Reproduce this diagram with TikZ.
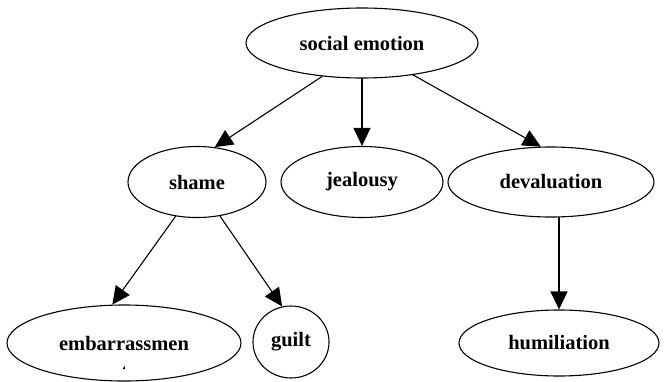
\documentclass[tikz,border=0pt]{standalone}
\usepackage{fontspec}
\setmainfont{Liberation Serif}
\usetikzlibrary{arrows.meta, shapes.geometric}

\begin{document}
\begin{tikzpicture}[x=1pt, y=-1pt, >={Triangle[length=18pt, width=17pt]},
	line cap=round, line join=round,
	emotion/.style={draw, ellipse, line width=1.1pt, inner sep=0pt,
		font=\fontsize{20.5}{24}\selectfont\bfseries},
	link/.style={->, line width=1.1pt}]

\useasboundingbox (0,0) rectangle (664,381);

% ================= top level =================
\node[emotion, minimum width=232pt, minimum height=70pt] (social) at (362,43) {social emotion};

% ================= second level =================
\node[emotion, minimum width=138pt, minimum height=71pt] (shame) at (197,182) {shame};
\node[emotion, minimum width=162pt, minimum height=71pt] (jealousy) at (362,182) {jealousy};
\node[emotion, minimum width=206pt, minimum height=70pt] (devaluation) at (551,182) {devaluation};

% ================= third level =================
\node[emotion, minimum width=234pt, minimum height=76pt] (embarrassment) at (124,343) {embarrassmen};
\node[emotion, minimum width=76pt, minimum height=72pt] (guilt) at (291,342) {guilt};
\node[emotion, minimum width=200pt, minimum height=66pt] (humiliation) at (559,343) {humiliation};

% top of the cut-off second line of the label
\fill (122.5,369) -- (124.5,366) -- (125,369) -- cycle;

% ================= edges =================
\draw[link] (social.220) -- (shame.63);
\draw[link] (social.south) -- (jealousy.north);
\draw[link] (social.-32) -- (devaluation.106);
\draw[link] (shame.238) -- (embarrassment.107);
\draw[link] (shame.-56) -- (guilt.104);
\draw[link] (devaluation.south -| humiliation.north) -- (humiliation.north);

\end{tikzpicture}
\end{document}
